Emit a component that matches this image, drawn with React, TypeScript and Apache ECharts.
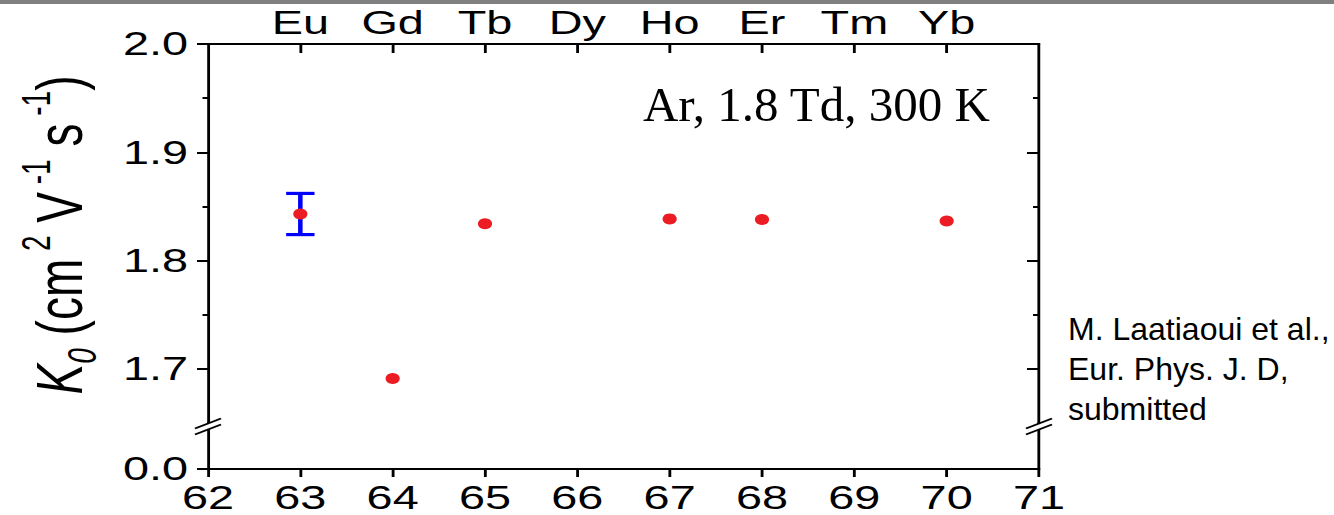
import React, { useEffect, useRef } from 'react';
import * as echarts from 'echarts';

// ---- data ----
const atomicNumbers = [63, 64, 65, 67, 68, 70];
const mobility = [1.843, 1.691, 1.834, 1.8385, 1.838, 1.8365];
const mobilityError = [0.019, 0, 0, 0, 0, 0];
const elementNumbers = [63, 64, 65, 66, 67, 68, 69, 70];
const elementSymbols = ['Eu', 'Gd', 'Tb', 'Dy', 'Ho', 'Er', 'Tm', 'Yb'];
const xMin = 62;
const xMax = 71;
const xInterval = 1;
const yUpperMin = 1.65;
const yUpperMax = 2.0;
const yMajorTicks = [1.7, 1.8, 1.9, 2.0];
const yMinorTicks = [1.75, 1.85, 1.95];
const yLowerMin = 0;
const yLowerMax = 0.04;
const yLowerTicks = [0];
const annotationText = 'Ar, 1.8 Td, 300 K';
const citationLines = ['M. Laatiaoui et al.,', 'Eur. Phys. J. D,', 'submitted'];

// ---- layout (the original figure is stretched horizontally) ----
const PAGE_W = 1334;
const H = 515;
const W = 940;
const S = PAGE_W / W;

export default function App() {
  const ref = useRef<HTMLDivElement>(null);

  useEffect(() => {
    const chart = echarts.init(ref.current!, null, { renderer: 'svg', width: W, height: H });
    const sans = 'Liberation Sans, Arial, sans-serif';
    const serif = 'Liberation Serif, Times New Roman, serif';
    const leftX = 208 / S;
    const rightX = 1039 / S;
    const gridRight = W - rightX;
    const black = { color: '#000', width: 2 };
    const labelStyle = { color: '#000', fontFamily: sans, fontSize: 33 };

    const breakMarks = (ax: number) => {
      const cy = 426.5;
      const dx = 13 / S;
      const off = 3;
      return [
        {
          type: 'polygon',
          shape: {
            points: [
              [ax - dx, cy + 5 - off],
              [ax + dx, cy - 5 - off],
              [ax + dx, cy - 5 + off],
              [ax - dx, cy + 5 + off],
            ],
          },
          style: { fill: '#fff' },
          z: 100,
        },
        {
          type: 'line',
          shape: { x1: ax - dx, y1: cy + 5 - off, x2: ax + dx, y2: cy - 5 - off },
          style: { stroke: '#000', lineWidth: 1.6 },
          z: 101,
        },
        {
          type: 'line',
          shape: { x1: ax - dx, y1: cy + 5 + off, x2: ax + dx, y2: cy - 5 + off },
          style: { stroke: '#000', lineWidth: 1.6 },
          z: 101,
        },
      ];
    };

    const option: any = {
      animation: false,
      backgroundColor: '#fff',
      grid: [
        { left: leftX, right: gridRight, top: 44, height: 379 },
        { left: leftX, right: gridRight, top: 423, height: 46 },
      ],
      xAxis: [
        {
          gridIndex: 0,
          type: 'value',
          position: 'top',
          min: xMin,
          max: xMax,
          interval: xInterval,
          axisLine: { show: true, onZero: false, lineStyle: black },
          axisTick: { show: true, inside: true, length: 9, customValues: elementNumbers, lineStyle: black },
          axisLabel: {
            ...labelStyle,
            margin: 5,
            customValues: elementNumbers,
            formatter: (v: number) => elementSymbols[elementNumbers.indexOf(Math.round(v))] ?? '',
          },
          splitLine: { show: false },
        },
        {
          gridIndex: 1,
          type: 'value',
          position: 'bottom',
          min: xMin,
          max: xMax,
          interval: xInterval,
          axisLine: { show: true, onZero: false, lineStyle: black },
          axisTick: { show: true, inside: false, length: 8, lineStyle: black },
          axisLabel: { ...labelStyle, margin: 12, showMinLabel: true, showMaxLabel: true },
          splitLine: { show: false },
        },
      ],
      yAxis: [
        {
          gridIndex: 0,
          type: 'value',
          position: 'left',
          min: yUpperMin,
          max: yUpperMax,
          axisLine: { show: true, onZero: false, lineStyle: black },
          axisTick: { show: true, inside: false, length: 11 / S, customValues: yMajorTicks, lineStyle: black },
          axisLabel: {
            ...labelStyle,
            margin: 14,
            customValues: yMajorTicks,
            formatter: (v: number) => v.toFixed(1),
          },
          splitLine: { show: false },
        },
        {
          gridIndex: 0,
          type: 'value',
          position: 'left',
          min: yUpperMin,
          max: yUpperMax,
          axisLine: { show: false },
          axisTick: { show: true, inside: false, length: 5.5 / S, customValues: yMinorTicks, lineStyle: black },
          axisLabel: { show: false },
          splitLine: { show: false },
        },
        {
          gridIndex: 0,
          type: 'value',
          position: 'right',
          min: yUpperMin,
          max: yUpperMax,
          axisLine: { show: true, onZero: false, lineStyle: black },
          axisTick: { show: true, inside: true, length: 12 / S, customValues: yMajorTicks, lineStyle: black },
          axisLabel: { show: false },
          splitLine: { show: false },
        },
        {
          gridIndex: 0,
          type: 'value',
          position: 'right',
          min: yUpperMin,
          max: yUpperMax,
          axisLine: { show: false },
          axisTick: { show: true, inside: true, length: 6 / S, customValues: yMinorTicks, lineStyle: black },
          axisLabel: { show: false },
          splitLine: { show: false },
        },
        {
          gridIndex: 1,
          type: 'value',
          position: 'left',
          min: yLowerMin,
          max: yLowerMax,
          axisLine: { show: true, onZero: false, lineStyle: black },
          axisTick: { show: true, inside: false, length: 11 / S, customValues: yLowerTicks, lineStyle: black },
          axisLabel: {
            ...labelStyle,
            margin: 14,
            customValues: yLowerTicks,
            formatter: (v: number) => v.toFixed(1),
          },
          splitLine: { show: false },
        },
        {
          gridIndex: 1,
          type: 'value',
          position: 'right',
          min: yLowerMin,
          max: yLowerMax,
          axisLine: { show: true, onZero: false, lineStyle: black },
          axisTick: { show: false },
          axisLabel: { show: false },
          splitLine: { show: false },
        },
      ],
      series: [
        {
          type: 'custom',
          xAxisIndex: 0,
          yAxisIndex: 0,
          z: 2,
          data: atomicNumbers.map((z, i) => [z, mobility[i] - mobilityError[i], mobility[i] + mobilityError[i]]),
          renderItem: (params: any, api: any) => {
            const lo = api.coord([api.value(0), api.value(1)]);
            const hi = api.coord([api.value(0), api.value(2)]);
            if (Math.abs(hi[1] - lo[1]) < 0.5) return { type: 'group', children: [] };
            const cap = 10;
            const style = { stroke: '#0000ff', lineWidth: 3.2 };
            return {
              type: 'group',
              children: [
                { type: 'line', shape: { x1: lo[0], y1: lo[1], x2: hi[0], y2: hi[1] }, style },
                { type: 'line', shape: { x1: lo[0] - cap, y1: lo[1], x2: lo[0] + cap, y2: lo[1] }, style },
                { type: 'line', shape: { x1: hi[0] - cap, y1: hi[1], x2: hi[0] + cap, y2: hi[1] }, style },
              ],
            };
          },
        },
        {
          type: 'scatter',
          xAxisIndex: 0,
          yAxisIndex: 0,
          z: 3,
          symbol: 'circle',
          symbolSize: [10, 11],
          itemStyle: { color: '#ec1c24', opacity: 1 },
          data: atomicNumbers.map((z, i) => [z, mobility[i]]),
        },
      ],
      graphic: [
        {
          type: 'rect',
          shape: { x: 0, y: 0, width: W, height: 4 },
          style: { fill: '#808080' },
          z: 50,
        },
        ...breakMarks(leftX),
        ...breakMarks(rightX),
        {
          type: 'text',
          x: 41.7,
          y: 235,
          rotation: Math.PI / 2,
          z: 60,
          style: {
            text: '{k|K}{sub|0}{m| (cm}{sup| 2}{m| V}{sup| -1}{m| s}{sup| -1}{m|)}',
            align: 'center',
            verticalAlign: 'middle',
            textAlign: 'center',
            textVerticalAlign: 'middle',
            fill: '#000',
            fontFamily: sans,
            fontSize: 46,
            rich: {
              k: { fontFamily: sans, fontSize: 46, fontStyle: 'italic', lineHeight: 60, verticalAlign: 'middle', fill: '#000' },
              m: { fontFamily: sans, fontSize: 46, lineHeight: 60, verticalAlign: 'middle', fill: '#000' },
              sup: { fontFamily: sans, fontSize: 28, lineHeight: 14, verticalAlign: 'top', fill: '#000' },
              sub: { fontFamily: sans, fontSize: 28, fontStyle: 'italic', lineHeight: 8, verticalAlign: 'bottom', fill: '#000' },
            },
          },
        },
        {
          type: 'text',
          x: 990 / S,
          y: 105,
          scaleX: 1 / S,
          z: 60,
          style: {
            text: annotationText,
            fontFamily: serif,
            fontSize: 49,
            fill: '#000',
            align: 'right',
            verticalAlign: 'middle',
            textAlign: 'right',
            textVerticalAlign: 'middle',
          },
        },
        {
          type: 'text',
          x: 1068 / S,
          y: 369,
          scaleX: 1 / S,
          z: 60,
          style: {
            text: citationLines.join('\n'),
            fontFamily: sans,
            fontSize: 32,
            lineHeight: 40,
            fill: '#000',
            align: 'left',
            verticalAlign: 'middle',
            textAlign: 'left',
            textVerticalAlign: 'middle',
          },
        },
      ],
    };

    chart.setOption(option);
    return () => chart.dispose();
  }, []);

  return (
    <div
      style={{
        position: 'fixed',
        left: 0,
        top: 0,
        width: PAGE_W,
        height: H,
        overflow: 'hidden',
        background: '#fff',
      }}
    >
      <div
        ref={ref}
        style={{ width: W, height: H, transform: `scaleX(${S})`, transformOrigin: '0 0' }}
      />
    </div>
  );
}
